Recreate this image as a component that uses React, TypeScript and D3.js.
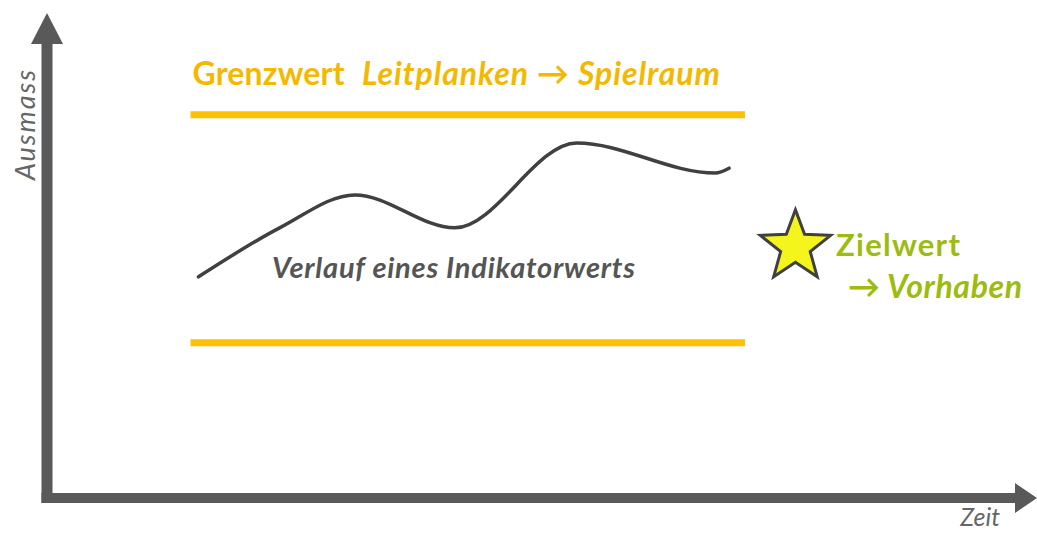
import * as d3 from 'd3'

// Verlauf eines Indikatorwerts (Zeit 0..100, Ausmass 0..100)
const zeit = [15.3, 23.5, 31.1, 41.2, 53.5, 67.5, 68.9]
const ausmass = [45.6, 55.7, 62.5, 55.7, 73.2, 67.0, 68.0]

// Leitplanken (oberer / unterer Grenzwert) und Zielwert
const grenzStart = 14.5
const grenzEnde = 70.5
const grenzwerte = [79, 32]
const zielwert = { zeit: 75.6, ausmass: 51.8 }

const W = 1037
const H = 535
const FONT = "Lato, 'Open Sans', sans-serif"

const App = () => {
  const x = d3.scaleLinear().domain([0, 100]).range([47, 1037])
  const y = d3.scaleLinear().domain([0, 100]).range([498, 13])

  const line = d3.line<number>()
    .x((d, i) => x(zeit[i]))
    .y(d => y(d))
    .curve(d3.curveMonotoneX)

  const x0 = x(0)
  const y0 = y(0)

  // star with 5 points
  const R = 37
  const r = R * 0.42
  const starPts = d3.range(10).map(i => {
    const a = -Math.PI / 2 + (i * Math.PI) / 5
    const rad = i % 2 === 0 ? R : r
    return [Math.cos(a) * rad, Math.sin(a) * rad]
  })
  const star = 'M' + starPts.map(p => p.join(',')).join('L') + 'Z'

  return (
    <svg width={W} height={H} style={{ position: 'absolute', left: 0, top: 0, background: '#fff' }}>
      {/* axes */}
      <line x1={x0} x2={x0} y1={y0 + 5} y2={y(100) + 28} stroke="#595959" strokeWidth={11} />
      <path d={`M${x0},${y(100)} L${x0 + 16},${y(100) + 31} L${x0 - 16},${y(100) + 31} Z`} fill="#595959" />
      <line x1={x0 - 5.5} x2={x(100) - 20} y1={y0} y2={y0} stroke="#595959" strokeWidth={10} />
      <path d={`M${x(100)},${y0} L${x(100) - 22},${y0 - 15} L${x(100) - 22},${y0 + 15} Z`} fill="#595959" />

      <text transform={`translate(35,125) rotate(-90)`} textAnchor="middle" fontFamily={FONT}
        fontStyle="italic" fontSize={27} fill="#666" textLength={110} lengthAdjust="spacing">Ausmass</text>
      <text x={1000} y={526} textAnchor="end" fontFamily={FONT} fontStyle="italic" fontSize={25} fill="#666">Zeit</text>

      {/* Grenzwerte */}
      {grenzwerte.map((g, i) => (
        <line key={i} x1={x(grenzStart)} x2={x(grenzEnde)} y1={y(g)} y2={y(g)}
          stroke="#FFC000" strokeWidth={7} />
      ))}
      <text x={x(grenzStart) + 2} y={85} fontFamily={FONT} fontWeight="bold" fontSize={32} fill="#F5B800">
        <tspan textLength={152} lengthAdjust="spacing">Grenzwert</tspan>
        <tspan x={362} fontStyle="italic" textLength={358} lengthAdjust="spacing">Leitplanken → Spielraum</tspan>
      </text>

      {/* Indikator */}
      <path d={line(ausmass) ?? ''} fill="none" stroke="#404040" strokeWidth={3.5} strokeLinecap="round" />
      <text x={272} y={278} fontFamily={FONT} fontStyle="italic" fontWeight="bold" fontSize={29} fill="#555"
        textLength={363} lengthAdjust="spacing">
        Verlauf eines Indikatorwerts
      </text>

      {/* Zielwert */}
      <path d={star} transform={`translate(${x(zielwert.zeit)},${y(zielwert.ausmass)})`}
        fill="#F5F51E" stroke="#404040" strokeWidth={3} strokeLinejoin="miter" />
      <text x={836} y={256} fontFamily={FONT} fontWeight="bold" fontSize={31} fill="#9DBB10"
        textLength={124} lengthAdjust="spacing">Zielwert</text>
      <text x={848} y={298} fontFamily={FONT} fontWeight="bold" fontStyle="italic" fontSize={32} fill="#9DBB10"
        textLength={174} lengthAdjust="spacing">
        → Vorhaben
      </text>
    </svg>
  )
}

export default App
